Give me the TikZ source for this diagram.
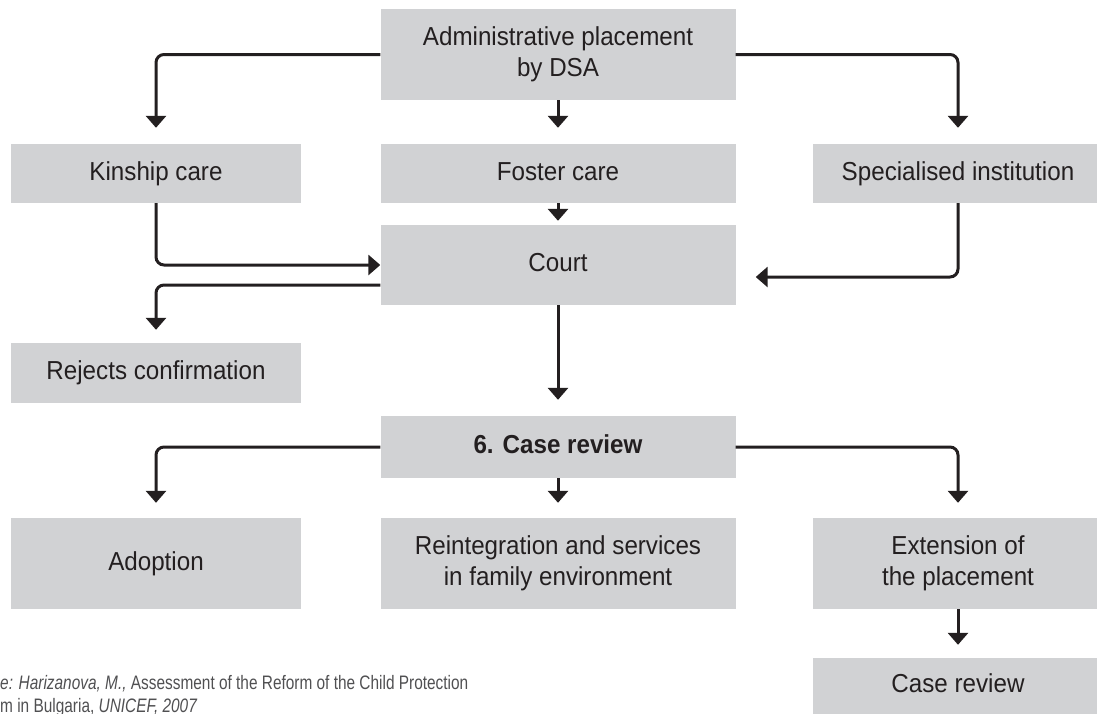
\documentclass[tikz,border=0pt]{standalone}
\usepackage{fontspec}
\setmainfont[FakeStretch=0.93]{Liberation Sans}
\newfontfamily\srcfont[FakeStretch=0.79]{Liberation Sans}
\usetikzlibrary{arrows.meta}
\definecolor{boxgray}{HTML}{D1D2D4}
\definecolor{ink}{HTML}{231F20}
\definecolor{srcgray}{HTML}{505052}
\begin{document}
\begin{tikzpicture}[x=1pt,y=-1pt,
  box/.style={fill=boxgray, draw=none, text=ink, align=center, inner sep=0pt,
    font=\fontsize{26}{31}\selectfont},
  oneline/.style={text height=19pt, text depth=5.5pt},
  colbox/.style={box, minimum width=290pt},
  midbox/.style={box, minimum width=355pt},
  conn/.style={draw=ink, line width=3pt, -{Triangle[width=20pt,length=12pt]},
    rounded corners=8pt},
  srctext/.style={anchor=base west, inner sep=0pt, text=srcgray,
    font=\srcfont\fontsize{19.5}{23}\selectfont},
]
\useasboundingbox (0,0) rectangle (1097,713);
\clip (0,0) rectangle (1097,713);
% boxes
\node[midbox, minimum height=91pt] (top) at (558,54.5) {Administrative placement\\by DSA};
\node[colbox, oneline, minimum height=59pt] (kin) at (156,173.5) {Kinship care};
\node[midbox, oneline, minimum height=59pt] (foster) at (558,173.5) {Foster care};
\node[colbox, oneline, minimum height=59pt] (spec) at (958,173.5) {Specialised institution};
\node[midbox, oneline, minimum height=80pt] (court) at (558,265) {Court};
\node[colbox, oneline, minimum height=60pt] (rej) at (156,373) {Rejects confirmation};
\node[midbox, oneline, minimum height=62pt, font=\bfseries\fontsize{26}{31}\selectfont] (case) at (558,447) {6. Case review};
\node[colbox, oneline, minimum height=91pt] (adopt) at (156,563.5) {Adoption};
\node[midbox, minimum height=91pt] (reint) at (558,563.5) {Reintegration and services\\in family environment};
\node[colbox, minimum height=91pt] (ext) at (958,563.5) {Extension of\\the placement};
\node[colbox, oneline, minimum height=56pt] (cr) at (958,686) {Case review};
% connectors
\draw[conn, shorten >=16pt] (top.west) -| (kin.north);
\draw[conn, shorten >=16pt] (top.east) -| (spec.north);
\draw[conn, shorten >=16pt] (top.south) -- (foster.north);
\draw[conn, shorten >=4pt] (foster.south) -- (court.north);
\draw[conn] (kin.south) |- (court.west);
\draw[conn, shorten >=20pt] (spec.south) |- ([yshift=-12pt]court.east);
\draw[conn, shorten >=13pt] ([yshift=-20pt]court.west) -| (rej.north);
\draw[conn, shorten >=16pt] (court.south) -- (case.north);
\draw[conn, shorten >=15pt] (case.west) -| (adopt.north);
\draw[conn, shorten >=15pt] (case.east) -| (ext.north);
\draw[conn, shorten >=15pt] (case.south) -- (reint.north);
\draw[conn, shorten >=13pt] (ext.south) -- (cr.north);
% source
\node[srctext] (src1) at (0,689) {\llap{\itshape Sourc}\itshape e: Harizanova, M.,\upshape{} Assessment of the Reform of the Child Protection};
\node[srctext] (src2) at (0,712) {\llap{Syste}m in Bulgaria, \itshape UNICEF, 2007};
\end{tikzpicture}
\end{document}
